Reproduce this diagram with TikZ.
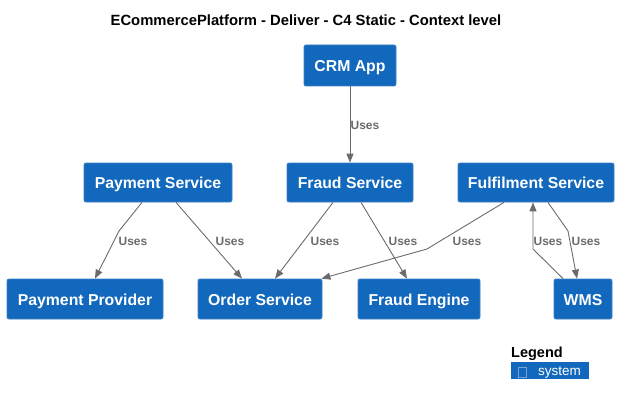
\documentclass[tikz,border=0pt]{standalone}
\usepackage{fontspec}
\setmainfont{Liberation Sans}
\usetikzlibrary{arrows.meta,calc}
\definecolor{sysblue}{HTML}{1168BD}
\definecolor{sysborder}{HTML}{3C7FC0}
\definecolor{edgegray}{HTML}{6B6B6B}
\tikzset{
  sys/.style={fill=sysblue, draw=sysborder, line width=0.8pt, rounded corners=2pt,
    text=white, inner sep=0pt, minimum height=40pt, text height=12.5pt, text depth=0pt,
    font=\fontsize{15.8}{18}\selectfont\bfseries},
  rel/.style={draw=edgegray, line width=0.9pt,
    -{Triangle[length=9pt,width=7pt]}},
  uses/.style={text=edgegray, inner sep=0pt, text height=8.6pt, text depth=0pt,
    font=\fontsize{12}{14}\selectfont\bfseries},
}
\begin{document}
\begin{tikzpicture}[x=1pt,y=-1pt]
\useasboundingbox (0,0) rectangle (619,404);
\node[font=\fontsize{14.8}{16}\selectfont\bfseries, inner sep=0pt, text height=10.6pt, text depth=0pt] (title) at (306,20.5) {ECommercePlatform - Deliver - C4 Static - Context level};

\node[sys, minimum width=92pt, minimum height=41pt] (crm) at (350,65.5) {CRM App};
\node[sys, minimum width=148pt, minimum height=39pt] (ps) at (158,182.5) {Payment Service};
\node[sys, minimum width=126pt, minimum height=39pt] (fs) at (350,182.5) {Fraud Service};
\node[sys, minimum width=156pt, minimum height=39pt] (ful) at (536,182.5) {Fulfilment Service};
\node[sys, minimum width=156pt] (pp) at (85,299) {Payment Provider};
\node[sys, minimum width=124pt] (os) at (260,299) {Order Service};
\node[sys, minimum width=122pt] (fe) at (419,299) {Fraud Engine};
\node[sys, minimum width=58pt] (wms) at (583,299) {WMS};

\coordinate (w1) at (119,231);
\coordinate (w2) at (427,249);
\coordinate (w3) at (533,249);
\coordinate (w4) at (568,231);

\draw[rel] (crm.south) -- (fs.north);
\draw[rel] ($(ps.south)+(-16,0)$) -- (w1) -- ($(pp.north)+(10,0)$);
\draw[rel] ($(ps.south)+(18,0)$) -- ($(os.north)+(-18,0)$);
\draw[rel] ($(fs.south)+(-17,0)$) -- ($(os.north)+(15,0)$);
\draw[rel] ($(fs.south)+(11,0)$) -- ($(fe.north)+(-12,0)$);
\draw[rel] ($(ful.south)+(-32,0)$) -- (w2) -- ($(os.north east)+(-1,0)$);
\draw[rel] ($(wms.north)+(-20,0)$) -- (w3) -- ($(ful.south)+(-3,0)$);
\draw[rel] ($(ful.south)+(12,0)$) -- (w4) -- ($(wms.north)+(-6,0)$);

\node[uses] (u1) at (365,125) {Uses};
\node[uses] (u2) at (133,241) {Uses};
\node[uses] (u3) at (230,241) {Uses};
\node[uses] (u4) at (325,241) {Uses};
\node[uses] (u5) at (403,241) {Uses};
\node[uses] (u6) at (467,241) {Uses};
\node[uses] (u7) at (548,241) {Uses};
\node[uses] (u8) at (586,241) {Uses};

\node[font=\fontsize{14.5}{16}\selectfont\bfseries, inner sep=0pt, anchor=base west] (legend) at (511,357.5) {Legend};
\node[fill=sysblue, inner sep=0pt, minimum width=78pt, minimum height=17pt, anchor=north west] (lbox) at (511,362) {};
\node[text=white, inner sep=0pt, font=\fontsize{13.5}{15}\selectfont, anchor=base west] (ltext) at (538,375) {system};
\node[draw=sysborder!70!white, line width=0.6pt, inner sep=0pt, minimum width=8pt, minimum height=10pt] (licon) at (522,372) {};
\end{tikzpicture}
\end{document}
